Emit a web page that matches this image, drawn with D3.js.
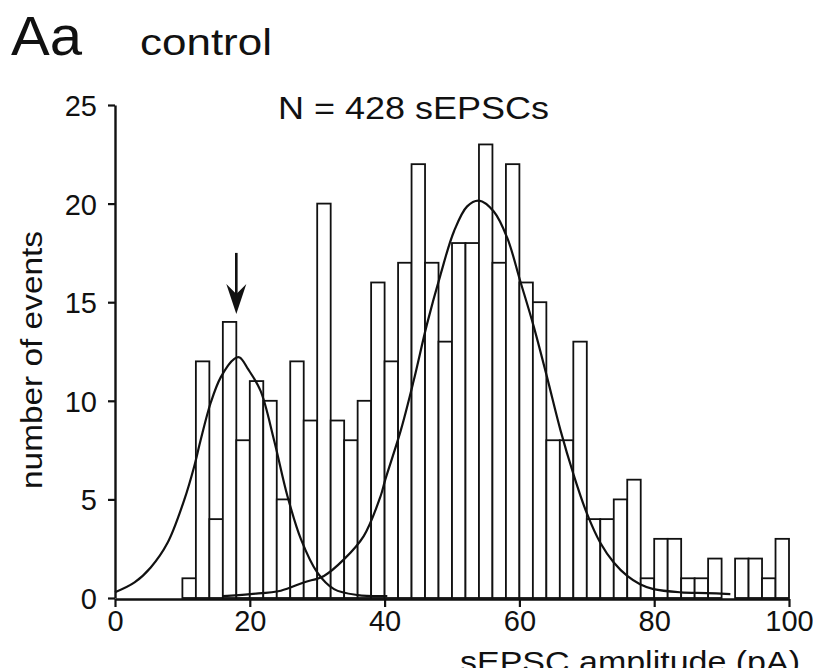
<!DOCTYPE html>
<html>
<head>
<meta charset="utf-8">
<script src="https://cdn.jsdelivr.net/npm/d3@7"></script>
<style>
  html, body { margin: 0; padding: 0; background: #fff; }
  svg { display: block; }
  text { font-family: "Liberation Sans", Arial, Helvetica, sans-serif; fill: #111; }
</style>
</head>
<body>
<svg id="chart" width="813" height="668"></svg>
<script>
// ---- data ----
const binStarts = d3.range(10, 100, 2);          // 2-pA bins from 10 to 100 pA
const binWidth = 2;
const counts = [1,12,4,14,8,11,10,5,12,9,20,9,8,10,16,12,17,22,17,13,18,18,23,17,22,16,15,8,8,13,4,4,5,6,1,3,3,1,1,2,0,2,2,1,3];

const fit1X = [0, 2.9, 5.3, 7.8, 10.3, 11.75, 12.7, 14.2, 15.7, 17.7, 18.5, 19.7, 21.6, 23.6, 25.6, 27.6, 30, 32.5, 36, 40.4];
const fit1Y = [0.29, 0.79, 1.55, 2.8, 5.0, 6.67, 8.0, 9.9, 11.2, 12.13, 12.2, 11.63, 10.5, 8.0, 5.15, 2.97, 1.3, 0.45, 0.15, 0.1];

const fit2X = [16, 20.1, 24.6, 28, 31, 34, 36.9, 39.4, 40.1, 42.4, 44.3, 46.3, 48.3, 50.3, 52.25, 54, 56.2, 58.2, 60.1, 62.1, 64.1, 66.1, 68, 70, 72, 74, 76, 77.9, 79.9, 83.9, 87.8, 91.3];
const fit2Y = [0.1, 0.2, 0.37, 0.79, 1.12, 1.97, 3.14, 5.16, 6.0, 8.5, 11.0, 13.9, 16.4, 18.6, 19.86, 20.15, 19.6, 18.26, 16.1, 13.8, 11.2, 8.5, 6.3, 4.3, 2.8, 1.8, 1.12, 0.7, 0.45, 0.29, 0.25, 0.2];

const xTicks = [0, 20, 40, 60, 80, 100];
const yTicks = [0, 5, 10, 15, 20, 25];
const arrowX = 18, arrowTop = 17.5, arrowTip = 14.4;

const panelLabel = "Aa";
const condition = "control";
const nLabel = "N = 428 sEPSCs";
const yLabel = "number of events";
const xLabel = "sEPSC amplitude (pA)";

// ---- chart ----
const svg = d3.select("#chart");
const x = d3.scaleLinear().domain([0, 100]).range([115, 789]);
const y = d3.scaleLinear().domain([0, 25]).range([598, 105]);

// bars
svg.append("g").selectAll("rect")
  .data(binStarts.map((s, i) => ({ s, c: counts[i] })))
  .join("rect")
  .attr("x", d => x(d.s))
  .attr("width", d => x(d.s + binWidth) - x(d.s))
  .attr("y", d => y(d.c))
  .attr("height", d => y(0) - y(d.c))
  .attr("fill", "#fff")
  .attr("stroke", "#111")
  .attr("stroke-width", 1.8);

// fit curves
const line = d3.line().x(d => x(d[0])).y(d => y(d[1])).curve(d3.curveCatmullRom.alpha(0.5));
svg.append("path").datum(fit1X.map((v, i) => [v, fit1Y[i]]))
  .attr("d", line).attr("fill", "none").attr("stroke", "#111").attr("stroke-width", 2.2);
svg.append("path").datum(fit2X.map((v, i) => [v, fit2Y[i]]))
  .attr("d", line).attr("fill", "none").attr("stroke", "#111").attr("stroke-width", 2.2);

// axes
const xAxis = svg.append("g").attr("transform", `translate(0,${y(0) + 1})`)
  .call(d3.axisBottom(x).tickValues(xTicks).tickSize(8).tickSizeOuter(0).tickPadding(3));
const yAxis = svg.append("g").attr("transform", `translate(${x(0)},0)`)
  .call(d3.axisLeft(y).tickValues(yTicks).tickSize(7).tickSizeOuter(0).tickPadding(11));
[xAxis, yAxis].forEach(g => {
  g.select(".domain").attr("stroke", "#111").attr("stroke-width", 2.4);
  g.selectAll(".tick line").attr("stroke", "#111").attr("stroke-width", 2.2);
  g.selectAll(".tick text").attr("font-size", 29).attr("fill", "#111")
    .style("font-family", '"Liberation Sans", Arial, sans-serif');
});
yAxis.selectAll(".tick text").attr("dy", "0.36em");

// arrow
const ax = x(arrowX);
const tipY = y(arrowTip);
svg.append("line").attr("x1", ax).attr("x2", ax)
  .attr("y1", y(arrowTop)).attr("y2", tipY - 15)
  .attr("stroke", "#111").attr("stroke-width", 2.6);
svg.append("path")
  .attr("d", `M${ax},${tipY} L${ax - 10},${tipY - 30} L${ax},${tipY - 20} L${ax + 10},${tipY - 30} Z`)
  .attr("fill", "#111");

// texts
svg.append("text").attr("x", 11).attr("y", 55).attr("font-size", 55)
  .attr("textLength", 71).attr("lengthAdjust", "spacingAndGlyphs").text(panelLabel);
svg.append("text").attr("x", 140).attr("y", 55).attr("font-size", 37)
  .attr("textLength", 132).attr("lengthAdjust", "spacingAndGlyphs").text(condition);
svg.append("text").attr("x", 278).attr("y", 119).attr("font-size", 31)
  .attr("textLength", 271).attr("lengthAdjust", "spacingAndGlyphs").text(nLabel);
svg.append("text").attr("transform", "translate(42,360) rotate(-90)")
  .attr("text-anchor", "middle").attr("font-size", 29)
  .attr("textLength", 258).attr("lengthAdjust", "spacingAndGlyphs").text(yLabel);
svg.append("text").attr("x", 460).attr("y", 672).attr("font-size", 29)
  .attr("textLength", 340).attr("lengthAdjust", "spacingAndGlyphs").text(xLabel);
</script>
</body>
</html>
